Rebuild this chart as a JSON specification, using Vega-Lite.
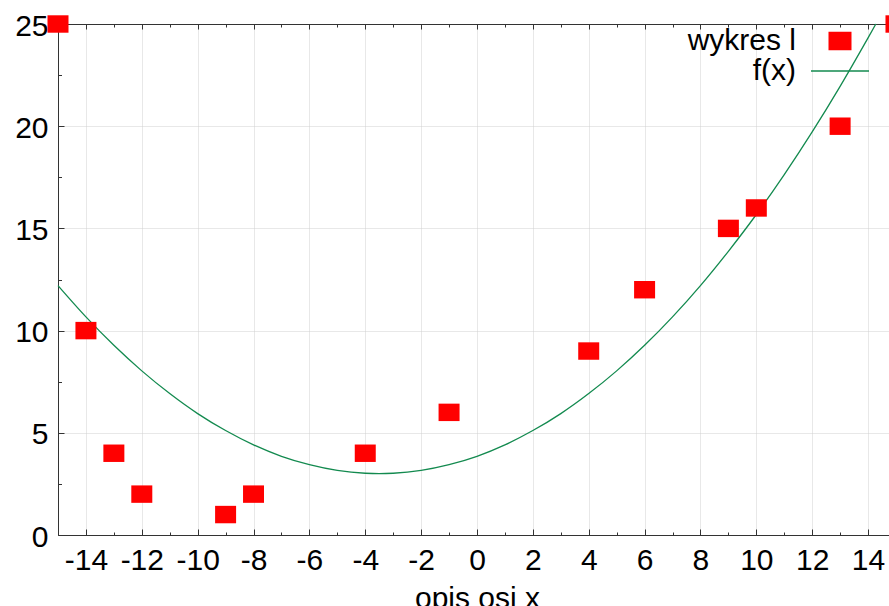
{
  "$schema": "https://vega.github.io/schema/vega-lite/v6.json",
  "width": 831,
  "height": 511,
  "autosize": {"type": "none"},
  "padding": {"left": 58, "top": 24, "right": 0, "bottom": 71},
  "background": "white",
  "datasets": {
    "pts": [
      {"x": -15, "y": 25, "series": "wykres l"},
      {"x": -14, "y": 10, "series": "wykres l"},
      {"x": -13, "y": 4, "series": "wykres l"},
      {"x": -12, "y": 2, "series": "wykres l"},
      {"x": -9, "y": 1, "series": "wykres l"},
      {"x": -8, "y": 2, "series": "wykres l"},
      {"x": -4, "y": 4, "series": "wykres l"},
      {"x": -1, "y": 6, "series": "wykres l"},
      {"x": 4, "y": 9, "series": "wykres l"},
      {"x": 6, "y": 12, "series": "wykres l"},
      {"x": 9, "y": 15, "series": "wykres l"},
      {"x": 10, "y": 16, "series": "wykres l"},
      {"x": 13, "y": 20, "series": "wykres l"},
      {"x": 15, "y": 25, "series": "wykres l"}
    ],
    "curve": [
      {"x": -15, "y": 12.2, "series": "f(x)"},
      {"x": -14, "y": 10.67, "series": "f(x)"},
      {"x": -13, "y": 9.28, "series": "f(x)"},
      {"x": -12, "y": 8.03, "series": "f(x)"},
      {"x": -11, "y": 6.92, "series": "f(x)"},
      {"x": -10, "y": 5.94, "series": "f(x)"},
      {"x": -9, "y": 5.11, "series": "f(x)"},
      {"x": -8, "y": 4.41, "series": "f(x)"},
      {"x": -7, "y": 3.85, "series": "f(x)"},
      {"x": -6, "y": 3.44, "series": "f(x)"},
      {"x": -5, "y": 3.16, "series": "f(x)"},
      {"x": -4, "y": 3.02, "series": "f(x)"},
      {"x": -3.5, "y": 3.0, "series": "f(x)"},
      {"x": -3, "y": 3.02, "series": "f(x)"},
      {"x": -2, "y": 3.16, "series": "f(x)"},
      {"x": -1, "y": 3.44, "series": "f(x)"},
      {"x": 0, "y": 3.85, "series": "f(x)"},
      {"x": 1, "y": 4.41, "series": "f(x)"},
      {"x": 2, "y": 5.11, "series": "f(x)"},
      {"x": 3, "y": 5.94, "series": "f(x)"},
      {"x": 4, "y": 6.92, "series": "f(x)"},
      {"x": 5, "y": 8.03, "series": "f(x)"},
      {"x": 6, "y": 9.28, "series": "f(x)"},
      {"x": 7, "y": 10.67, "series": "f(x)"},
      {"x": 8, "y": 12.2, "series": "f(x)"},
      {"x": 9, "y": 13.88, "series": "f(x)"},
      {"x": 10, "y": 15.68, "series": "f(x)"},
      {"x": 11, "y": 17.63, "series": "f(x)"},
      {"x": 12, "y": 19.72, "series": "f(x)"},
      {"x": 13, "y": 21.95, "series": "f(x)"},
      {"x": 14, "y": 24.32, "series": "f(x)"},
      {"x": 14.28, "y": 25.0, "series": "f(x)"}
    ]
  },
  "config": {
    "font": "Liberation Sans",
    "view": {"stroke": null},
    "axis": {
      "labelFont": "Liberation Sans",
      "labelFontSize": 30,
      "labelColor": "#000000",
      "titleFont": "Liberation Sans",
      "titleFontSize": 30,
      "titleFontWeight": "normal",
      "titleColor": "#000000",
      "domainColor": "#333333",
      "tickColor": "#333333",
      "gridColor": "#d0d0d0",
      "gridDash": [1, 1]
    }
  },
  "layer": [
    {
      "data": {"name": "curve"},
      "mark": {"type": "line", "interpolate": "monotone", "strokeWidth": 1.3, "clip": false},
      "encoding": {
        "x": {
          "field": "x", "type": "quantitative",
          "scale": {"domain": [-15, 14.75], "nice": false, "zero": false},
          "axis": {
            "orient": "bottom",
            "values": [-14, -12, -10, -8, -6, -4, -2, 0, 2, 4, 6, 8, 10, 12, 14],
            "labelExpr": "'' + datum.value",
            "grid": true, "tickSize": -6, "labelPadding": 40, "labelBaseline": "alphabetic",
            "labelFlush": false, "labelOverlap": false,
            "title": "opis osi x", "titleX": 419, "titleY": 72, "titleBaseline": "alphabetic", "titleAnchor": "middle"
          }
        },
        "y": {
          "field": "y", "type": "quantitative",
          "scale": {"domain": [0, 25], "nice": false, "zero": false},
          "axis": {
            "orient": "left",
            "values": [0, 5, 10, 15, 20, 25],
            "labelExpr": "'' + datum.value",
            "grid": true, "tickSize": -6, "labelPadding": 16, "labelBaseline": "alphabetic", "labelOffset": 11,
            "labelFlush": false, "labelOverlap": false, "title": null
          }
        },
        "color": {
          "field": "series", "type": "nominal",
          "scale": {"domain": ["wykres l", "f(x)"], "range": ["#ff0000", "#138a4f"]},
          "legend": {
            "title": null, "orient": "none", "legendX": 767, "legendY": 2, "direction": "vertical",
            "labelFont": "Liberation Sans", "labelFontSize": 30, "labelColor": "#000000",
            "labelAlign": "right", "labelBaseline": "middle", "labelOffset": -59, "labelLimit": 300,
            "symbolSize": 3364, "symbolType": "stroke", "rowPadding": -13, "padding": 0,
            "encode": {
              "symbols": {
                "update": {
                  "shape": {"signal": "datum.value === 'f(x)' ? 'stroke' : 'M-1,-0.8L1,-0.8L1,0.8L-1,0.8Z'"},
                  "size": {"signal": "datum.value === 'f(x)' ? 3364 : 462"},
                  "fill": {"signal": "datum.value === 'f(x)' ? 'transparent' : '#ff0000'"},
                  "stroke": {"signal": "datum.value === 'f(x)' ? '#138a4f' : 'transparent'"},
                  "strokeWidth": {"value": 1.5},
                  "opacity": {"value": 1}
                }
              }
            }
          }
        }
      }
    },
    {
      "data": {"name": "pts"},
      "mark": {"type": "point", "filled": true, "shape": "M-1,-0.83L1,-0.83L1,0.83L-1,0.83Z", "size": 441, "opacity": 1, "strokeWidth": 0, "clip": false},
      "encoding": {
        "x": {
          "field": "x", "type": "quantitative",
          "scale": {"domain": [-15, 14.75], "nice": false, "zero": false},
          "axis": {
            "orient": "bottom",
            "values": [-15, -13, -11, -9, -7, -5, -3, -1, 1, 3, 5, 7, 9, 11, 13],
            "grid": false, "labels": false, "domain": false, "tickSize": -3, "title": null
          }
        },
        "y": {
          "field": "y", "type": "quantitative",
          "scale": {"domain": [0, 25], "nice": false, "zero": false},
          "axis": {
            "orient": "left",
            "values": [2.5, 7.5, 12.5, 17.5, 22.5],
            "grid": false, "labels": false, "domain": false, "tickSize": -3.5, "title": null
          }
        },
        "color": {
          "field": "series", "type": "nominal",
          "scale": {"domain": ["wykres l", "f(x)"], "range": ["#ff0000", "#138a4f"]}
        }
      }
    },
    {
      "data": {"name": "pts"},
      "mark": {"type": "point", "opacity": 0},
      "encoding": {
        "x": {
          "field": "x", "type": "quantitative",
          "scale": {"domain": [-15, 14.75], "nice": false, "zero": false},
          "axis": {
            "orient": "top",
            "values": [-14, -12, -10, -8, -6, -4, -2, 0, 2, 4, 6, 8, 10, 12, 14],
            "grid": false, "labels": false, "domain": true, "tickSize": -5, "title": null
          }
        },
        "y": {
          "field": "y", "type": "quantitative",
          "scale": {"domain": [0, 25], "nice": false, "zero": false},
          "axis": null
        }
      }
    },
    {
      "data": {"name": "pts"},
      "mark": {"type": "point", "opacity": 0},
      "encoding": {
        "x": {
          "field": "x", "type": "quantitative",
          "scale": {"domain": [-15, 14.75], "nice": false, "zero": false},
          "axis": {
            "orient": "top",
            "values": [-15, -13, -11, -9, -7, -5, -3, -1, 1, 3, 5, 7, 9, 11, 13],
            "grid": false, "labels": false, "domain": false, "tickSize": -3, "title": null
          }
        },
        "y": {
          "field": "y", "type": "quantitative",
          "scale": {"domain": [0, 25], "nice": false, "zero": false},
          "axis": null
        }
      }
    }
  ],
  "resolve": {"axis": {"x": "independent", "y": "independent"}}
}
